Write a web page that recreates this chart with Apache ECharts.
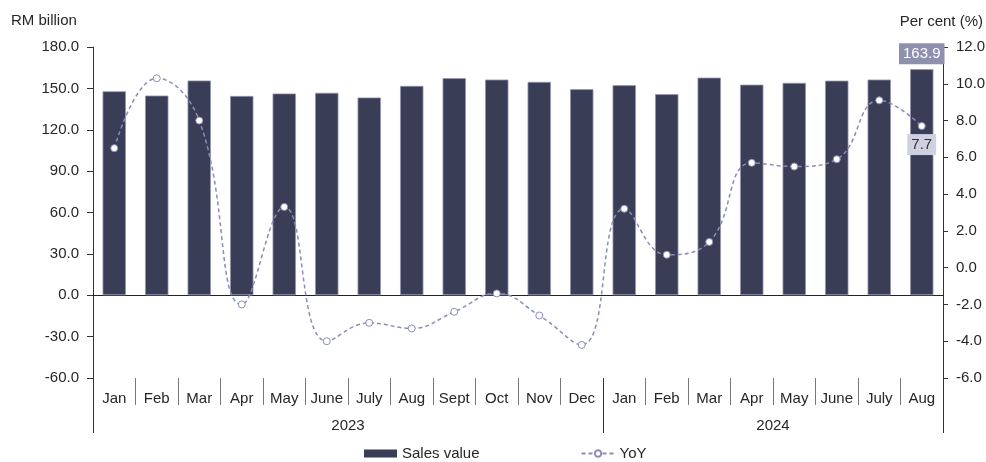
<!DOCTYPE html>
<html>
<head>
<meta charset="utf-8">
<title>Sales value and YoY</title>
<script src="https://cdn.jsdelivr.net/npm/echarts@6/dist/echarts.min.js"></script>
<style>
    * { margin: 0; padding: 0; }
    #main { width: 986px; height: 462px; }
</style>
</head>
<body>
<div id="main"></div>
<script>
    // data
    var months = ['Jan', 'Feb', 'Mar', 'Apr', 'May', 'June', 'July', 'Aug', 'Sept', 'Oct', 'Nov', 'Dec',
                  'Jan', 'Feb', 'Mar', 'Apr', 'May', 'June', 'July', 'Aug'];
    var years = ['2023', '2024'];
    var yearSpans = [12, 8];
    var salesValue = [147.9, 144.8, 155.7, 144.5, 146.3, 146.8, 143.4, 151.8, 157.4, 156.4, 154.7, 149.4,
                      152.3, 145.8, 157.8, 152.7, 154.0, 155.6, 156.4, 163.9];
    var yoy = [6.5, 10.3, 8.0, -2.0, 3.3, -4.0, -3.0, -3.3, -2.4, -1.4, -2.6, -4.2,
               3.2, 0.7, 1.4, 5.7, 5.5, 5.9, 9.1, 7.7];

    var font = "'Liberation Sans', Arial, sans-serif";
    var textColor = '#262626';
    var lineColor = '#8a8db8';

    // year row: boundary positions, label in middle of each span
    var yearSlots = [];
    var yearTicks = [0];
    for (var i = 0; i <= months.length; i++) yearSlots.push('');
    var start = 0;
    years.forEach(function (y, k) {
        yearSlots[start + yearSpans[k] / 2] = y;
        start += yearSpans[k];
        yearTicks.push(start);
    });

    var barData = salesValue.map(function (v, i) {
        if (i !== salesValue.length - 1) return v;
        return {
            value: v,
            label: {
                show: true, position: 'top', distance: 5,
                color: '#fff', backgroundColor: '#8e91ad', padding: [3, 4, 3, 4],
                fontSize: 15, fontFamily: font,
                formatter: function (p) { return p.value.toFixed(1); }
            }
        };
    });
    var lineData = yoy.map(function (v, i) {
        if (i !== yoy.length - 1) return v;
        return {
            value: v,
            label: {
                show: true, position: 'bottom', distance: 4,
                color: '#333', backgroundColor: '#cfd0e1', padding: [3, 4, 3, 4],
                fontSize: 15, fontFamily: font,
                formatter: function (p) { return p.value.toFixed(1); }
            }
        };
    });

    var myChart = echarts.init(document.getElementById('main'));
    var option = {
        animation: false,
        textStyle: { fontFamily: font },
        grid: { left: 93, right: 43, top: 47, bottom: 84, outerBoundsMode: 'none' },
        graphic: [
            { type: 'text', left: 11, top: 13, style: { text: 'RM billion', fontSize: 15, fill: textColor, fontFamily: font } },
            { type: 'text', right: 3, top: 14, style: { text: 'Per cent (%)', fontSize: 15, fill: textColor, fontFamily: font } }
        ],
        legend: {
            left: 359, top: 441,
            itemWidth: 33, itemHeight: 8, itemGap: 101,
            textStyle: { fontSize: 15, color: textColor, fontFamily: font },
            data: [
                { name: 'Sales value', icon: 'rect', itemStyle: { borderWidth: 0 } },
                { name: 'YoY' }
            ]
        },
        xAxis: [
            {
                type: 'category', data: months,
                axisLine: { onZero: true, lineStyle: { color: '#222' } },
                axisTick: { interval: 0, length: 5, lineStyle: { color: '#222' } },
                axisLabel: { show: false }
            },
            {
                type: 'category', data: months, position: 'bottom',
                axisLine: { show: false, onZero: false },
                axisTick: { show: true, interval: 0, length: 27, lineStyle: { color: '#777' } },
                axisLabel: { interval: 0, margin: 13, fontSize: 15, color: textColor }
            },
            {
                type: 'category', data: yearSlots, position: 'bottom', boundaryGap: false,
                axisLine: { show: false, onZero: false },
                axisTick: {
                    show: true, length: 55, lineStyle: { color: '#333' },
                    interval: function (idx) { return yearTicks.indexOf(idx) >= 0; }
                },
                axisLabel: { interval: 0, margin: 40, fontSize: 15, color: textColor }
            }
        ],
        yAxis: [
            {
                type: 'value', min: -60, max: 180, interval: 30,
                splitLine: { show: false },
                axisLine: { show: true, lineStyle: { color: '#333' } },
                axisTick: { show: true, length: 6, lineStyle: { color: '#333' } },
                axisLabel: { margin: 14, fontSize: 15, color: textColor,
                    formatter: function (v) { return v.toFixed(1); } }
            },
            {
                type: 'value', min: -6, max: 12, interval: 2, position: 'right',
                splitLine: { show: false },
                axisLine: { show: true, lineStyle: { color: '#333' } },
                axisTick: { show: true, length: 5, lineStyle: { color: '#333' } },
                axisLabel: { margin: 13, fontSize: 15, color: textColor,
                    formatter: function (v) { return v.toFixed(1); } }
            }
        ],
        series: [
            {
                name: 'Sales value', type: 'bar', data: barData,
                barWidth: '55%',
                itemStyle: { color: '#393d56', borderColor: '#9597ae', borderWidth: 0.8 }
            },
            {
                name: 'YoY', type: 'line', yAxisIndex: 1, data: lineData,
                smooth: 0.45,
                symbol: 'circle', symbolSize: 7,
                lineStyle: { color: lineColor, width: 1.5, type: [4, 3] },
                itemStyle: { color: '#fff', borderColor: lineColor, borderWidth: 1 }
            }
        ]
    };
    myChart.setOption(option);
</script>
</body>
</html>
